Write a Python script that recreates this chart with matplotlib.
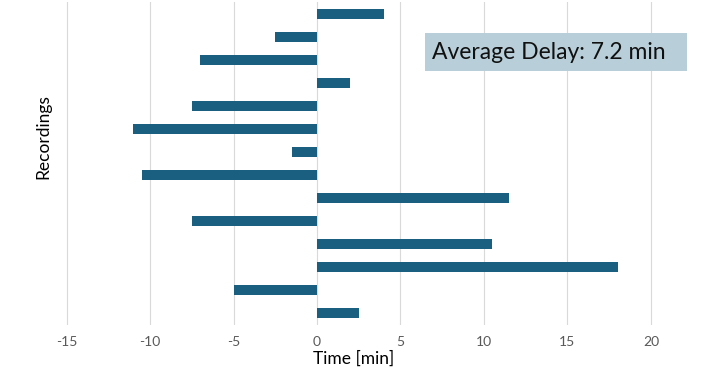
import matplotlib
matplotlib.use("Agg")
import matplotlib.pyplot as plt
from matplotlib.patches import Rectangle
import numpy as np

# Delay per recording (top to bottom), minutes
recordings = list(range(1, 15))
delays = [4, -2.5, -7, 2, -7.5, -11, -1.5, -10.5, 11.5, -7.5, 10.5, 18, -5, 2.5]
avg_label = "Average Delay: 7.2 min"
x_ticks = [-15, -10, -5, 0, 5, 10, 15, 20]

plt.rcParams['font.family'] = ['Lato', 'DejaVu Sans']

fig = plt.figure(figsize=(7.18, 3.82), dpi=100)
ax = fig.add_axes([0.0694, 0.1505, 0.907, 0.843])

y = np.arange(len(delays))
ax.barh(y, delays, height=0.4, color="#1a5e80", zorder=3)
ax.set_ylim(len(delays) - 0.5, -0.5)
ax.set_xlim(-16, 23)

ax.set_xticks(x_ticks)
ax.set_xticklabels([str(t) for t in x_ticks])
ax.tick_params(axis='x', length=0, labelsize=10, labelcolor="#595959", pad=8)
ax.set_yticks([])
ax.grid(axis='x', color="#d9d9d9", linewidth=0.8, zorder=0)
for s in ax.spines.values():
    s.set_visible(False)

ax.set_xlabel("Time [min]", fontsize=12.5, color="black")
ax.xaxis.set_label_coords(0.467, -0.082)
ax.set_ylabel("Recordings", fontsize=12.5, color="black")
ax.yaxis.set_label_coords(0.003, 0.585)

# average delay box
ax.add_patch(Rectangle((0.576, 0.787), 0.402, 0.118, transform=ax.transAxes,
                       facecolor="#b8cfd9", edgecolor="none", zorder=4))
ax.text(0.587, 0.846, avg_label, transform=ax.transAxes, fontsize=16.5,
        ha='left', va='center', color="#111111", zorder=5)

fig.savefig("out.png", dpi=100)
